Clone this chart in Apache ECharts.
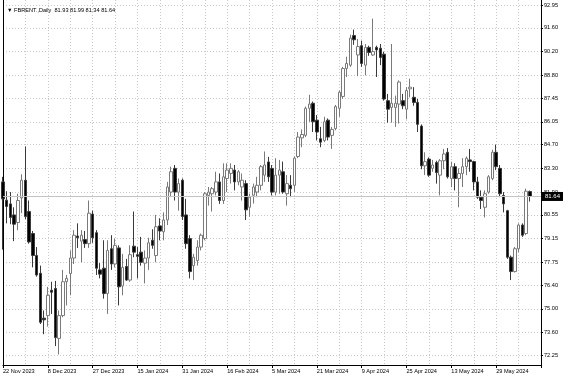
<!DOCTYPE html>
<html>
<head>
<meta charset="utf-8">
<script src="https://cdn.jsdelivr.net/npm/echarts@6/dist/echarts.min.js"></script>
<style>
html,body{margin:0;padding:0;background:#fff;}
#chart{width:564px;height:376px;}
</style>
</head>
<body>
<div id="chart"></div>
<script>
// Trading days (categories)
const dates = [
'2023-11-22','2023-11-23','2023-11-24','2023-11-27','2023-11-28','2023-11-29','2023-11-30',
'2023-12-01','2023-12-04','2023-12-05','2023-12-06','2023-12-07','2023-12-08','2023-12-11','2023-12-12','2023-12-13','2023-12-14','2023-12-15','2023-12-18','2023-12-19','2023-12-20','2023-12-21','2023-12-22','2023-12-26','2023-12-27','2023-12-28','2023-12-29',
'2024-01-02','2024-01-03','2024-01-04','2024-01-05','2024-01-08','2024-01-09','2024-01-10','2024-01-11','2024-01-12','2024-01-15','2024-01-16','2024-01-17','2024-01-18','2024-01-19','2024-01-22','2024-01-23','2024-01-24','2024-01-25','2024-01-26','2024-01-29','2024-01-30','2024-01-31',
'2024-02-01','2024-02-02','2024-02-05','2024-02-06','2024-02-07','2024-02-08','2024-02-09','2024-02-12','2024-02-13','2024-02-14','2024-02-15','2024-02-16','2024-02-19','2024-02-20','2024-02-21','2024-02-22','2024-02-23','2024-02-26','2024-02-27','2024-02-28','2024-02-29',
'2024-03-01','2024-03-04','2024-03-05','2024-03-06','2024-03-07','2024-03-08','2024-03-11','2024-03-12','2024-03-13','2024-03-14','2024-03-15','2024-03-18','2024-03-19','2024-03-20','2024-03-21','2024-03-22','2024-03-25','2024-03-26','2024-03-27','2024-03-28',
'2024-04-01','2024-04-02','2024-04-03','2024-04-04','2024-04-05','2024-04-08','2024-04-09','2024-04-10','2024-04-11','2024-04-12','2024-04-15','2024-04-16','2024-04-17','2024-04-18','2024-04-19','2024-04-22','2024-04-23','2024-04-24','2024-04-25','2024-04-26','2024-04-29','2024-04-30',
'2024-05-01','2024-05-02','2024-05-03','2024-05-06','2024-05-07','2024-05-08','2024-05-09','2024-05-10','2024-05-13','2024-05-14','2024-05-15','2024-05-16','2024-05-17','2024-05-20','2024-05-21','2024-05-22','2024-05-23','2024-05-24','2024-05-27','2024-05-28','2024-05-29','2024-05-30','2024-05-31',
'2024-06-03','2024-06-04','2024-06-05','2024-06-06','2024-06-07','2024-06-10','2024-06-11'
];

const opens = [
82.5,81.42,81.2,80.55,80.1,81.55,82.6,
80.75,79.45,78.15,77.1,74.45,74.6,76.1,76.2,73.25,74.6,76.6,77.08,78.0,79.3,79.0,79.1,78.85,80.6,79.5,77.3,
77.4,75.9,78.55,77.65,78.6,76.35,77.5,76.7,78.7,78.2,78.35,77.7,78.0,79.05,78.15,79.9,79.55,80.25,81.9,83.3,81.9,82.6,
80.55,79.15,77.55,77.85,78.65,79.15,81.7,81.8,81.9,82.5,81.4,82.7,83.0,83.2,82.5,82.2,82.4,81.0,81.71,81.9,82.3,
82.9,83.68,83.3,81.9,82.9,83.1,81.8,82.3,82.3,84.0,85.1,85.25,86.85,87.15,86.15,85.05,84.95,86.15,85.25,85.65,
86.85,87.55,89.2,89.4,91.15,90.0,90.55,89.4,90.45,90.0,90.45,90.4,90.05,87.3,86.9,86.9,87.1,87.3,86.8,88.0,87.5,87.2,
85.8,83.45,83.85,83.3,83.65,82.9,83.75,84.25,82.7,83.4,82.7,83.0,83.4,83.8,83.7,82.5,81.6,81.0,81.9,82.7,84.25,83.3,81.7,
80.8,78.05,77.2,78.55,79.95,79.45,81.93
];
const highs = [
82.8,81.95,81.9,81.0,81.8,82.95,84.6,
81.4,79.6,78.65,77.55,74.9,76.3,76.6,76.65,74.9,77.3,77.0,78.45,79.65,80.05,79.65,79.6,81.4,80.8,79.65,77.7,
79.05,79.05,79.35,79.15,78.75,78.25,77.95,78.75,80.75,78.65,79.25,78.45,79.2,79.7,80.55,80.35,80.7,82.5,83.4,83.5,82.7,82.7,
81.5,79.35,78.25,79.05,79.45,81.9,82.2,82.2,83.1,83.0,83.6,83.6,83.6,83.5,83.2,83.0,82.6,81.8,82.4,82.8,83.5,
84.3,83.98,83.5,83.9,83.8,83.7,82.9,82.9,84.0,85.45,85.6,86.95,87.65,87.25,86.45,85.75,86.35,86.25,85.75,87.05,
87.9,89.3,89.9,91.2,91.5,90.95,90.85,90.65,90.55,92.15,90.55,90.65,90.2,87.7,90.65,87.6,88.5,87.7,88.1,88.6,88.1,87.4,
85.9,84.25,83.95,83.8,83.75,83.85,84.45,84.5,83.7,83.6,83.3,83.9,84.0,84.45,83.75,82.8,82.0,82.0,82.9,84.4,84.7,83.5,81.9,
80.85,78.15,78.65,80.05,80.05,82.1,81.99
];
const lows = [
78.5,80.05,80.0,79.0,79.65,80.65,80.3,
78.85,77.45,76.9,74.1,73.5,73.95,74.7,72.8,72.3,74.5,75.2,75.8,77.65,78.6,77.75,78.6,78.6,78.9,77.0,76.8,
75.6,74.7,77.3,77.45,75.2,75.8,76.65,76.6,78.05,76.8,77.55,76.5,77.3,78.55,77.75,79.05,79.05,79.95,81.6,81.4,80.8,80.25,
78.55,76.8,76.7,77.55,78.45,79.05,81.1,80.75,81.7,81.2,81.2,81.9,82.4,82.0,82.3,81.4,80.25,80.45,81.22,81.6,82.0,
82.5,82.5,81.7,81.7,81.8,81.8,81.1,81.6,81.9,83.9,84.55,85.15,86.05,85.45,84.95,84.55,84.85,84.95,84.45,85.55,
86.35,87.4,88.7,89.3,90.6,88.75,89.3,88.8,89.95,89.95,88.7,89.4,87.3,86.0,86.0,85.75,85.95,86.8,86.2,87.5,87.0,85.45,
83.25,82.9,82.8,83.1,82.4,81.7,83.25,82.7,82.2,82.0,81.0,82.2,82.9,83.1,82.0,81.5,80.9,80.4,81.8,82.6,83.2,81.6,80.7,
77.95,76.7,77.15,78.35,79.25,79.35,81.34
];
const closes = [
81.5,81.05,80.4,80.0,81.4,82.6,80.45,
78.95,78.15,77.0,74.2,74.35,75.8,75.98,73.3,74.6,76.6,76.8,78.0,79.35,79.2,79.35,78.85,80.65,79.2,77.4,77.05,
75.9,78.45,77.65,78.75,76.3,77.45,76.7,78.2,78.35,78.1,77.75,78.0,78.9,78.75,79.85,79.6,80.25,82.2,83.1,81.9,82.4,80.45,
78.85,77.2,78.05,78.65,79.35,81.8,81.9,82.1,82.5,81.4,82.8,83.2,83.3,82.5,83.1,82.6,80.85,81.6,82.2,82.3,83.4,
83.5,82.8,81.9,82.9,83.2,81.9,82.4,82.1,83.9,85.15,85.3,86.85,87.1,86.05,85.45,84.85,86.05,85.15,85.6,86.95,
87.8,89.2,89.5,91.0,90.9,90.5,89.5,90.45,90.15,90.2,90.3,89.85,87.4,86.8,87.15,87.15,88.4,87.0,87.9,88.1,87.2,85.9,
83.45,83.7,82.9,83.5,83.05,83.75,84.15,82.8,83.4,82.7,83.0,83.4,83.9,83.7,82.5,81.6,81.4,81.8,82.8,84.25,83.4,81.8,81.2,
78.05,77.2,78.55,79.95,79.35,81.95,81.64
];

// Price-axis tick labels (as shown on the right scale)
const priceTicks = [72.25,73.60,75.00,76.40,77.75,79.15,80.55,81.90,83.30,84.70,86.05,87.45,88.80,90.20,91.60,92.95];

const symbolName = 'FBRENT.,Daily';
const emptySlots = ['', '', ''];

const MON = ['Jan','Feb','Mar','Apr','May','Jun','Jul','Aug','Sep','Oct','Nov','Dec'];
function fmtDate(s) {
  if (!s) return '';
  const p = s.split('-');
  return (+p[2]) + ' ' + MON[+p[1] - 1] + ' ' + p[0];
}

const categories = dates.concat(emptySlots);
const candles = dates.map((d, i) => [opens[i], closes[i], lows[i], highs[i]]);
const last = dates.length - 1;
const lastClose = closes[last];
const headerText = '\u25BC ' + symbolName + '  ' +
  [opens[last], highs[last], lows[last], closes[last]].map(v => v.toFixed(2)).join(' ');

const FONT = 'Liberation Sans';
const FS = 5.6;
const gridLine = { color: '#c8c8c8', width: 1, type: [1, 2] };

const chart = echarts.init(document.getElementById('chart'), null, { renderer: 'canvas' });
chart.setOption({
  animation: false,
  backgroundColor: '#ffffff',
  title: {
    text: headerText,
    left: 2, top: 2,
    textStyle: { fontFamily: FONT, fontSize: FS, fontWeight: 'normal', color: '#000' }
  },
  grid: { left: 1, right: 23, top: 0, bottom: 11, containLabel: false },
  xAxis: {
    type: 'category',
    data: categories,
    boundaryGap: false,
    axisLine: { show: true, lineStyle: { color: '#000', width: 1 } },
    axisTick: { show: true, interval: 11, length: 3, lineStyle: { color: '#000' } },
    axisLabel: {
      interval: 11, align: 'left', margin: 3, hideOverlap: false,
      fontFamily: FONT, fontSize: FS, color: '#000',
      formatter: fmtDate
    },
    splitLine: { show: true, interval: 5, lineStyle: gridLine }
  },
  yAxis: [
    {
      type: 'value', position: 'right',
      min: 71.68, max: 93.25,
      axisLine: { show: true, lineStyle: { color: '#000', width: 1 } },
      axisTick: { show: true, length: 2, customValues: priceTicks, lineStyle: { color: '#000' } },
      axisLabel: {
        customValues: priceTicks, margin: 3,
        fontFamily: FONT, fontSize: FS, color: '#000',
        formatter: v => v.toFixed(2)
      },
      splitLine: { show: true, lineStyle: gridLine }
    },
    {
      type: 'value', position: 'left',
      min: 71.68, max: 93.25,
      axisLine: { show: true, onZero: false, lineStyle: { color: '#000', width: 1 } },
      axisTick: { show: false },
      axisLabel: { show: false },
      splitLine: { show: false }
    }
  ],
  series: [{
    type: 'candlestick',
    yAxisIndex: 0,
    data: candles,
    barWidth: 3,
    itemStyle: {
      color: '#ffffff',
      color0: '#000000',
      borderColor: '#7a7a7a',
      borderColor0: '#3a3a3a',
      borderWidth: 1
    },
    markLine: {
      silent: true,
      symbol: 'none',
      precision: 2,
      lineStyle: { color: '#c4c4c4', type: 'solid', width: 1 },
      label: {
        position: 'end', distance: 1,
        formatter: lastClose.toFixed(2),
        backgroundColor: '#000', color: '#fff',
        fontFamily: FONT, fontSize: 6, padding: [2, 3, 1, 3]
      },
      data: [{ yAxis: lastClose }]
    }
  }]
});
</script>
</body>
</html>
